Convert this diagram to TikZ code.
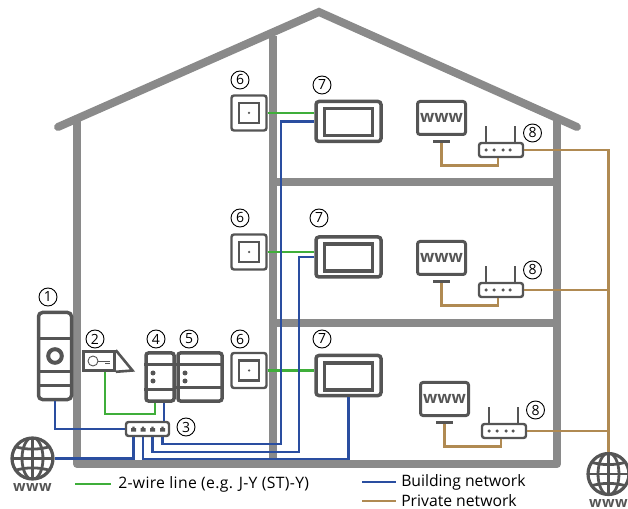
\documentclass[tikz,border=0pt]{standalone}
\usepackage{fontspec}
\setmainfont{Open Sans}
\usetikzlibrary{calc,positioning}
\newlength{\px}
\setlength{\px}{0.75pt}
\definecolor{wallgray}{HTML}{8A8A8A}
\definecolor{devgray}{HTML}{555555}
\definecolor{busblue}{HTML}{2A4EA0}
\definecolor{wiregreen}{HTML}{3FAE3A}
\definecolor{netbrown}{HTML}{B08A52}

\begin{document}
\begin{tikzpicture}[
    x=\px, y=-\px,
    wall/.style={draw=wallgray, line width=8\px},
    device/.style={draw=devgray, fill=white, rounded corners=2.5\px, line width=3.5\px, inner sep=0pt},
    thindev/.style={device, line width=2.4\px},
    devline/.style={draw=devgray, line width=3\px},
    led/.style={circle, fill=devgray, inner sep=0pt, minimum size=#1\px},
    panel/.style={thindev, minimum width=35\px, minimum height=35\px},
    paneltile/.style={draw=devgray, fill=white, line width=2.6\px, inner sep=0pt, minimum width=20\px, minimum height=20\px},
    monitor/.style={device, rounded corners=3\px, minimum width=65\px, minimum height=40\px},
    screen/.style={draw=devgray, fill=white, line width=3.6\px, inner sep=0pt, minimum width=48\px, minimum height=27\px},
    browser/.style={device, line width=3\px, minimum width=48\px, minimum height=33\px, font=\fontsize{12.5pt}{13pt}\selectfont\bfseries, text=devgray},
    stand/.style={fill=devgray, inner sep=0pt, minimum width=17\px, minimum height=3\px},
    router/.style={thindev, minimum width=44\px, minimum height=14\px},
    num/.style={circle, draw=black, line width=0.9\px, inner sep=0pt, minimum size=18\px, font=\fontsize{10.5pt}{11pt}\selectfont},
    wire/.style={draw=wiregreen, line width=2.8\px},
    bus/.style={draw=busblue, line width=2.8\px},
    net/.style={draw=netbrown, line width=2.8\px},
    legend/.style={inner sep=0pt, anchor=west, font=\fontsize{11.8pt}{13pt}\selectfont},
    wwwlabel/.style={inner sep=0pt, text=devgray, font=\fontsize{11pt}{11pt}\selectfont\bfseries\addfontfeatures{LetterSpace=3}},
    globe/.style={circle, draw=devgray, fill=white, line width=3.2\px, inner sep=0pt, minimum size=41\px,
        path picture={
            \begin{scope}[shift={(path picture bounding box.center)}, draw=devgray, line width=2.8\px]
                \draw (0,-21) -- (0,21);
                \draw (-21,0) -- (21,0);
                \draw (0,0) ellipse (10.5 and 21);
                \draw (-18,-12) .. controls (-6,-8.5) and (6,-8.5) .. (18,-12);
                \draw (-18,12) .. controls (-6,8.5) and (6,8.5) .. (18,12);
            \end{scope}
        }}
]
\useasboundingbox (0,0) rectangle (628,509);

% --- House ---
\draw[wall, line cap=round] (58,127) -- (319,12) -- (577,127);
\draw[wall, line join=round] (77,121) -- (77,464) -- (557,464) -- (557,121);
\draw[wall] (273,36) -- (273,464);
\draw[wall] (273,182) -- (557,182);
\draw[wall] (273,323) -- (557,323);

% --- Door station, key switch, switch ---
\node[device, rounded corners=4\px, minimum width=33\px, minimum height=87\px] (door) at (55,356) {};
\draw[devline] (door.west |- 0,339) -- (door.east |- 0,339);
\draw[devline] (door.west |- 0,372) -- (door.east |- 0,372);
\draw[devline] (door.west |- 0,386) -- (door.east |- 0,386);
\draw[draw=devgray, line width=4\px] (55,356) circle (6.8);

\node[draw=devgray, fill=white, line width=2.6\px, inner sep=0pt, minimum width=31\px, minimum height=19\px] (keybox) at (99,361) {};
\draw[devline, line width=2.6\px, line join=miter] (keybox.north east) -- (132.5,370.5) -- (keybox.south east);
\draw[draw=devgray, line width=0.9\px] (93,361) circle (5);
\draw[draw=devgray, line width=0.9\px] (98,361) -- (110,361) (105,363.5) -- (110,363.5);

\node[device, minimum width=28\px, minimum height=48\px] (actrl) at (160,377) {};
\node[device, minimum width=44\px, minimum height=48\px] (power) at (200,377) {};
\draw[devline] (actrl.west |- 0,365) -- (actrl.east |- 0,365);
\draw[devline] (actrl.west |- 0,390) -- (actrl.east |- 0,390);
\draw[devline] (power.west |- 0,365) -- (power.east |- 0,365);
\draw[devline] (power.west |- 0,388) -- (power.east |- 0,388);
\foreach \x in {153,185}
    \foreach \y in {373,381}
        \node[led=5] at (\x,\y) {};

\node[thindev, minimum width=43\px, minimum height=14\px] (switch) at (147.5,429) {};
\foreach \n/\x in {1/133.5,2/143,3/152.5,4/162.5} {
    \fill[devgray] (\x-2.5,431.5) rectangle (\x+2.5,428) (\x-1.2,428) rectangle (\x+1.2,426.5);
    \coordinate (port\n) at (\x,436.5);
}

% --- Globes ---
\node[globe] (netl) at (32.5,458.5) {};
\node[globe] (netr) at (608.5,474) {};
\node[wwwlabel] (wwwl) at (32.5,487) {www};
\node[wwwlabel] (wwwr) at (608.5,503) {www};

% --- Rooms ---
\foreach \n/\py/\my/\iy in {1/113/121.5/122, 2/252/257/257.5, 3/370.5/375.5/376.5} {
    \node[panel] (panel\n) at (249,\py) {};
    \node[paneltile] (tile\n) at (panel\n) {};
    \node[led=2.5] at (panel\n) {};
    \node[monitor] (mon\n) at (348.5,\my) {};
    \node[screen] (scr\n) at (348.5,\iy) {};
    \draw[wire] (panel\n.east) -- (panel\n.east -| mon\n.west);
}
\foreach \n/\x/\y/\ly in {1/441.5/118/133, 2/441.5/258/270, 3/444.5/399/410} {
    \node[browser] (www\n) at (\x,\y) {www};
    \node[stand] (stand\n) at (\x,\y+23.5) {};
    \node[router] (rout\n) at (\x+59.5,\y+32) {};
    \draw[devline, line width=2\px] ([xshift=-15\px]rout\n.north) -- ++(0,16\px);
    \draw[devline, line width=2\px] ([xshift=14\px]rout\n.north) -- ++(0,16\px);
    \foreach \d in {-15,-7,2,9}
        \node[led=3.5] at (\x+59.5+\d,\y+32) {};
    \node[num] at (\x+91,\ly) {8};
    \draw[net] (stand\n.south) |- ([xshift=-3\px,yshift=-7\px]rout\n.south) -- ([xshift=-3\px]rout\n.south);
}

% --- Building network ---
\coordinate (riser1) at (281,444);
\coordinate (riser2) at (299,452);
\coordinate (riser3) at (348.5,459);
\draw[bus] (door.south) |- (switch.west);
\draw[bus] (port1) |- (netl.east);
\draw[bus] (port2) |- (riser3) -- (mon3.south);
\draw[bus] (port3) |- (riser2) |- (mon2.west);
\draw[bus] (port4) |- (riser1) |- (mon1.west);
\draw[bus] (actrl.south -| 164,0) -- (switch.north -| 164,0);

% --- 2-wire line ---
\coordinate (bend) at (155,414);
\draw[wire] (keybox.south -| 105,0) |- (bend) -- (actrl.south -| 155,0);

% --- Private network ---
\draw[net] (rout1.east) -| (netr.north);
\draw[net] (rout2.east) -- (rout2.east -| netr.north);
\draw[net] (rout3.east) -- (rout3.east -| netr.north);

% --- Numbers ---
\node[num] at (48,297) {1};
\node[num] at (95,339) {2};
\node[num] at (186,427) {3};
\node[num] at (156,339) {4};
\node[num] at (189,339) {5};
\node[num] at (240,339) {6};
\node[num] at (240,218) {6};
\node[num] at (240,80) {6};
\node[num] at (322,339) {7};
\node[num] at (319,218) {7};
\node[num] at (322,85) {7};

% --- Legend ---
\coordinate (lega) at (75,484);
\coordinate (legb) at (111,484);
\coordinate (legc) at (362,482);
\coordinate (legd) at (396,482);
\coordinate (lege) at (362,501);
\coordinate (legf) at (396,501);
\draw[wire] (lega) -- (legb);
\draw[bus] (legc) -- (legd);
\draw[net] (lege) -- (legf);
\node[legend] (wiretext) at ($(legb)+(7,0)$) {\addfontfeatures{LetterSpace=2}2-wire line (e.g. J-Y (ST)-Y)};
\node[legend] (bustext) at ($(legd)+(5,0)$) {Building network};
\node[legend] (nettext) at ($(legf)+(5,0)$) {Private network};

\end{tikzpicture}
\end{document}
